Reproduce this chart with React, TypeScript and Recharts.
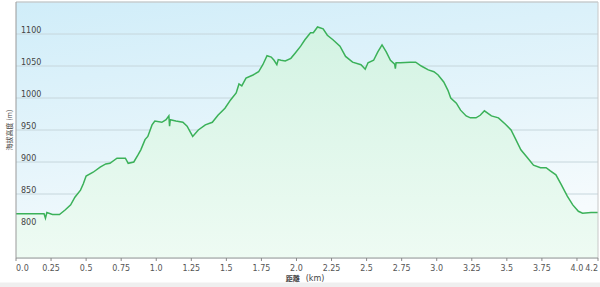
import React from "react";
import { AreaChart, Area, XAxis, YAxis, CartesianGrid, ReferenceLine } from "recharts";

const distanceKm = [
  0.0, 0.1, 0.2, 0.21, 0.22, 0.26, 0.31, 0.35, 0.39, 0.42, 0.46, 0.48, 0.5, 0.55, 0.6, 0.64, 0.67, 0.72, 0.78, 0.8,
  0.84, 0.87, 0.89, 0.92, 0.94, 0.97, 0.99, 1.04, 1.07, 1.09, 1.095, 1.1, 1.14, 1.19, 1.22, 1.26, 1.3, 1.35, 1.4, 1.44,
  1.49, 1.53, 1.57, 1.59, 1.61, 1.64, 1.69, 1.73, 1.76, 1.79, 1.82, 1.84, 1.86, 1.87, 1.89, 1.92, 1.96, 1.99, 2.03, 2.06,
  2.1, 2.12, 2.15, 2.19, 2.22, 2.26, 2.31, 2.35, 2.4, 2.46, 2.49, 2.51, 2.55, 2.58, 2.61, 2.64, 2.67, 2.7, 2.705, 2.71,
  2.74, 2.81, 2.85, 2.89, 2.94, 2.98, 3.01, 3.05, 3.08, 3.1, 3.14, 3.17, 3.21, 3.24, 3.28, 3.31, 3.34, 3.39, 3.44, 3.49,
  3.53, 3.56, 3.6, 3.65, 3.69, 3.74, 3.78, 3.81, 3.85, 3.89, 3.93, 3.97, 4.01, 4.04, 4.1, 4.15,
];

const elevationM = [
  819, 819, 819, 812, 821, 818, 818, 825, 833, 845, 856, 866, 878, 884, 892, 897, 898, 906, 906, 898,
  900, 911, 919, 935, 940, 958, 964, 962, 966, 972, 956, 966, 964, 962, 956, 940, 950, 958, 962, 973,
  984, 997, 1008, 1022, 1019, 1031, 1036, 1041, 1052, 1066, 1064, 1059, 1052, 1060, 1059, 1058, 1062, 1070, 1081, 1091,
  1102, 1102, 1111, 1108, 1098, 1091, 1081, 1065, 1056, 1052, 1045, 1055, 1059, 1072, 1083, 1072, 1059, 1053, 1046, 1055,
  1055, 1056, 1056, 1050, 1044, 1041, 1036, 1025, 1012, 1000, 992, 981, 972, 969, 969, 973, 980, 972, 969, 959,
  950, 937, 919, 906, 895, 891, 891, 886, 880, 864, 847, 833, 823, 820, 821, 821,
];

const xTicks = [0, 0.25, 0.5, 0.75, 1.0, 1.25, 1.5, 1.75, 2.0, 2.25, 2.5, 2.75, 3.0, 3.25, 3.5, 3.75, 4.0, 4.15];
const xTickLabels = ["0.0", "0.25", "0.5", "0.75", "1.0", "1.25", "1.5", "1.75", "2.0", "2.25", "2.5", "2.75", "3.0", "3.25", "3.5", "3.75", "4.0", "4.2"];
const yTicks = [800, 850, 900, 950, 1000, 1050, 1100];
const xDomain: [number, number] = [0, 4.15];
const yDomain: [number, number] = [750, 1150];

const data = distanceKm.map((d, i) => ({ d, e: elevationM[i] }));

const FONT = "'DejaVu Sans', Verdana, sans-serif";

const XTick = (props: any) => {
  const { x, y, payload } = props;
  const idx = xTicks.indexOf(payload.value);
  const label = idx >= 0 ? xTickLabels[idx] : String(payload.value);
  const anchor = idx === 0 ? "start" : idx === xTicks.length - 1 ? "end" : "middle";
  return (
    <g>
      <line x1={x} y1={y - 8} x2={x} y2={y - 5} stroke="#888" strokeWidth={1} />
      <text x={x} y={y + 5} textAnchor={anchor} fontSize={8} fill="#555" fontFamily={FONT}>
        {label}
      </text>
    </g>
  );
};

const YTick = (props: any) => {
  const { x, y, payload } = props;
  return (
    <text x={x + 5} y={y - 1.5} textAnchor="start" fontSize={8} fill="#444" fontFamily={FONT}>
      {payload.value}
    </text>
  );
};

export default function App() {
  return (
    <div
      style={{
        position: "absolute",
        left: 0,
        top: 0,
        width: 600,
        height: 287,
        background: "linear-gradient(to bottom, #ffffff 0px, #ffffff 282px, #efefef 283px, #efefef 287px)",
      }}
    >
      <AreaChart width={600} height={287} data={data} margin={{ top: 2, right: 2, left: 15, bottom: 0 }}>
        <defs>
          <linearGradient id="bgGrad" x1="0" y1="0" x2="0.3" y2="1">
            <stop offset="0%" stopColor="#d0edf9" />
            <stop offset="60%" stopColor="#e6f5fb" />
            <stop offset="100%" stopColor="#f6fbfd" />
          </linearGradient>
          <linearGradient id="areaGrad" x1="0" y1="0" x2="0" y2="1">
            <stop offset="0%" stopColor="#d3f3e3" />
            <stop offset="100%" stopColor="#eefbf3" />
          </linearGradient>
        </defs>
        <CartesianGrid vertical={false} stroke="#c6d6dc" strokeWidth={1} fill="url(#bgGrad)" fillOpacity={1} />
        <XAxis
          type="number"
          dataKey="d"
          domain={xDomain}
          ticks={xTicks}
          interval={0}
          height={29}
          axisLine={{ stroke: "#999" }}
          tickLine={false}
          tick={<XTick />}
          allowDataOverflow
          label={{
            content: (p: any) => {
              const vb = p.viewBox;
              return (
                <text
                  x={vb.x + vb.width / 2 - 2}
                  y={vb.y + 23}
                  textAnchor="middle"
                  fontSize={8}
                  fill="#444"
                  fontFamily={FONT}
                >
                  <tspan fontFamily="'Noto Sans CJK TC', sans-serif" fontWeight="bold" fontSize={7}>距離</tspan>
                  <tspan dx={6}>(km)</tspan>
                </text>
              );
            },
          }}
        />
        <YAxis
          type="number"
          domain={yDomain}
          ticks={yTicks}
          width={1}
          axisLine={{ stroke: "#999" }}
          tickLine={false}
          tickSize={0}
          tickMargin={0}
          tick={<YTick />}
          allowDataOverflow
          label={{
            content: (p: any) => {
              const vb = p.viewBox;
              const cx = vb.x + vb.width - 7;
              const cy = vb.y + vb.height / 2;
              return (
                <text
                  x={cx}
                  y={cy}
                  transform={`rotate(-90 ${cx} ${cy})`}
                  textAnchor="middle"
                  dominantBaseline="central"
                  fontSize={7}
                  fill="#444"
                  fontFamily="'Noto Sans CJK TC', sans-serif"
                >
                  海拔高度 (m)
                </text>
              );
            },
          }}
        />
        <ReferenceLine y={1150} stroke="#c8c8c8" />
        <ReferenceLine x={4.15} stroke="#c8c8c8" />
        <Area
          type="linear"
          dataKey="e"
          stroke="#3bb159"
          strokeWidth={1.5}
          fill="url(#areaGrad)"
          fillOpacity={1}
          isAnimationActive={false}
          dot={false}
          activeDot={false}
        />
      </AreaChart>
    </div>
  );
}
